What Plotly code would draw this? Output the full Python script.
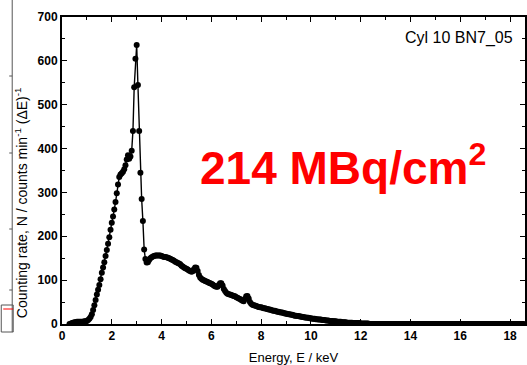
import plotly.graph_objects as go

# Channel calibration of the spectrum (keV)
E_START = 0.30
E_STEP = 0.05

# Counting rate per channel (0.30 keV ... 18.55 keV)
counts = [
    0, 0, 2, 3, 4, 4, 5, 5, 5, 5, 5, 5, 6, 6,
    7, 9, 12, 16, 22, 32, 43, 55, 67, 78, 89, 102, 117, 129, 141, 155, 169, 183, 198, 215,
    231, 245, 261, 278, 298, 318, 335, 341, 344, 347, 353, 362, 375, 385, 377, 382, 395, 440, 540, 605,
    636, 545, 440, 345, 285, 235, 170, 148, 140, 141, 146, 150, 152, 154, 155, 156, 156, 156, 156, 156,
    155, 154, 153, 153, 152, 151, 150, 149, 147, 146, 144, 142, 141, 139, 138, 136, 133, 131, 129, 127,
    126, 124, 122, 121, 119, 120, 125, 129, 128, 121, 112, 106, 103, 101, 100, 98, 97, 96, 94, 93,
    92, 90, 88, 86, 85, 85, 89, 93, 93, 88, 80, 75, 71, 69, 68, 67, 66, 65, 64, 63,
    61, 60, 58, 57, 55, 53, 52, 57, 63, 64, 58, 50, 46, 44, 43, 42, 41, 40, 39, 38,
    38, 37, 36, 36, 35, 34, 33, 33, 32, 31, 30, 30, 29, 28, 28, 27, 26, 26, 25, 24,
    24, 23, 22, 22, 21, 21, 20, 19, 19, 18, 18, 17, 17, 16, 16, 15, 15, 14, 14, 13,
    13, 12, 12, 12, 11, 11, 10, 10, 10, 9, 9, 9, 8, 8, 8, 7, 7, 7, 6, 6,
    6, 5, 5, 5, 5, 4, 4, 4, 4, 3, 3, 3, 3, 3, 2, 2, 2, 2, 2, 2,
    1, 1, 1, 1, 1, 1, 1, 0, 0, 0, 0, 0, 0, 0, 0, 0, 0, 0, 0, 0,
    0, 0, 0, 0, 0, 0, 0, 0, 0, 0, 0, 0, 0, 0, 0, 0, 0, 0, 0, 0,
    0, 0, 0, 0, 0, 0, 0, 0, 0, 0, 0, 0, 0, 0, 0, 0, 0, 0, 0, 0,
    0, 0, 0, 0, 0, 0, 0, 0, 0, 0, 0, 0, 0, 0, 0, 0, 0, 0, 0, 0,
    0, 0, 0, 0, 0, 0, 0, 0, 0, 0, 0, 0, 0, 0, 0, 0, 0, 0, 0, 0,
    0, 0, 0, 0, 0, 0, 0, 0, 0, 0, 0, 0, 0, 0, 0, 0, 0, 0, 0, 0,
    0, 0, 0, 0, 0, 0, 0, 0, 0, 0, 0, 0,
]
energy = [round(E_START + i * E_STEP, 3) for i in range(len(counts))]

x_ticks = [0, 2, 4, 6, 8, 10, 12, 14, 16, 18]
y_ticks = [0, 100, 200, 300, 400, 500, 600, 700]

sample_label = "Cyl 10 BN7_05"
activity_label = "214 MBq/cm<sup>2</sup>"
x_title = "Energy, E / keV"
y_title = "Counting rate, N / counts min<sup>-1</sup> (ΔE)<sup>-1</sup>"

FONT = "Liberation Sans, Arial, sans-serif"

fig = go.Figure()
fig.add_trace(go.Scatter(
    x=energy, y=counts, mode="lines+markers",
    line=dict(color="black", width=1.4),
    marker=dict(color="black", size=6, line=dict(width=0)),
    showlegend=False, hoverinfo="skip",
))

axis_common = dict(
    showline=True, linecolor="black", linewidth=2, mirror="ticks",
    ticks="inside", ticklen=5, tickwidth=1, tickcolor="black",
    showgrid=False, zeroline=False,
    tickfont=dict(family=FONT, size=12, color="black", weight="bold"),
)

fig.update_xaxes(
    range=[0, 18.6], tickvals=x_ticks,
    minor=dict(dtick=1, ticks="inside", ticklen=3, tickcolor="black"),
    title=dict(text=x_title, font=dict(family=FONT, size=13, color="black"), standoff=11),
    **axis_common,
)
fig.update_yaxes(
    range=[0, 700], tickvals=y_ticks,
    minor=dict(dtick=50, ticks="inside", ticklen=3, tickcolor="black"),
    **axis_common,
)

def px_x(p):
    return (p - 62) / 465.0

def px_y(p):
    return (324 - p) / 307.0

fig.add_annotation(
    x=px_x(517), y=px_y(38), xref="paper", yref="paper",
    xanchor="right", yanchor="middle", showarrow=False,
    text=sample_label, font=dict(family=FONT, size=16, color="black"),
)
fig.add_annotation(
    x=px_x(199), y=px_y(165), xref="paper", yref="paper",
    xanchor="left", yanchor="middle", showarrow=False,
    text=activity_label, font=dict(family=FONT, size=46, color="#ff0000", weight="bold"),
)
fig.add_annotation(
    x=px_x(21), y=px_y(203), xref="paper", yref="paper",
    xanchor="center", yanchor="middle", showarrow=False, textangle=-90,
    text=y_title, font=dict(family=FONT, size=14, color="black"),
)

# fragment of a neighbouring frame at the far left edge
shapes = [dict(type="line", xref="paper", yref="paper",
               x0=px_x(12), x1=px_x(12), y0=px_y(0), y1=px_y(332),
               line=dict(color="#555555", width=1))]
for ty in [76, 153, 229, 290]:
    shapes.append(dict(type="line", xref="paper", yref="paper",
                       x0=px_x(9), x1=px_x(12), y0=px_y(ty), y1=px_y(ty),
                       line=dict(color="#555555", width=1)))
shapes.append(dict(type="rect", xref="paper", yref="paper",
                   x0=px_x(1), x1=px_x(13), y0=px_y(332), y1=px_y(305),
                   line=dict(color="#555555", width=1)))
shapes.append(dict(type="line", xref="paper", yref="paper",
                   x0=px_x(3), x1=px_x(13), y0=px_y(309), y1=px_y(309),
                   line=dict(color="#ff0000", width=1)))
fig.update_layout(shapes=shapes)

fig.update_layout(
    width=527, height=365,
    margin=dict(l=62, r=0, t=17, b=41),
    paper_bgcolor="white", plot_bgcolor="white",
    font=dict(family=FONT, color="black"),
)

fig.write_html("out.html")
